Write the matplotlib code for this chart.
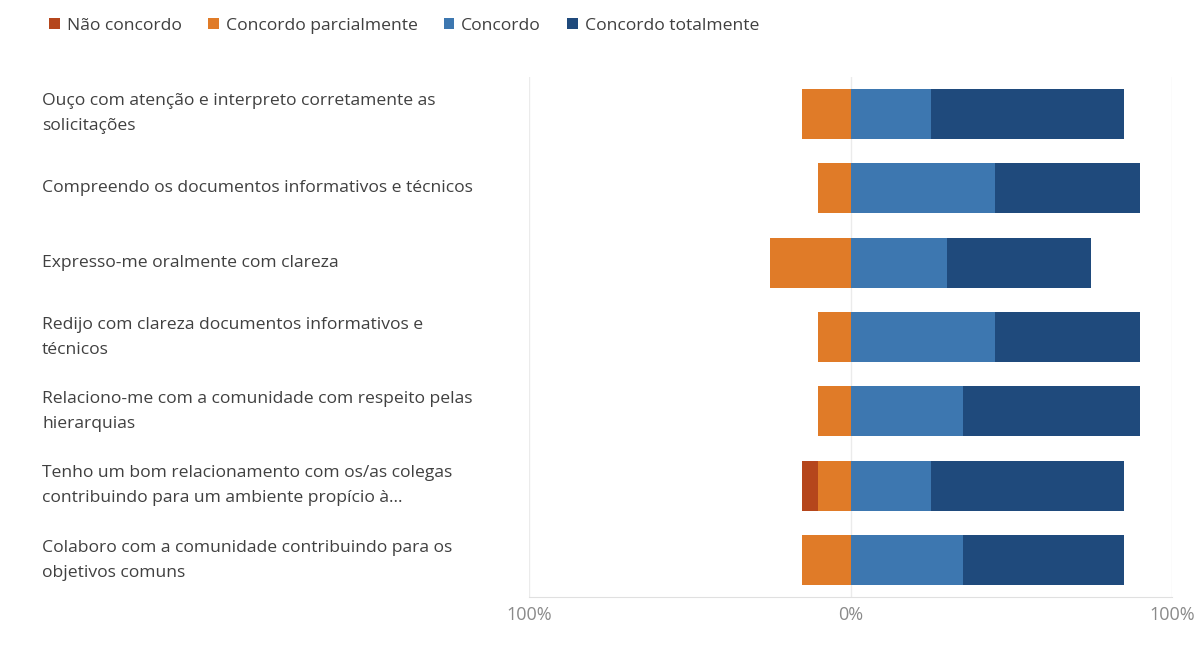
import matplotlib
matplotlib.use('Agg')
import matplotlib.pyplot as plt
import matplotlib.transforms as mtransforms
import numpy as np

plt.rcParams['font.family'] = ['Open Sans', 'DejaVu Sans']

# statements (top to bottom)
labels = [
  'Ouço com atenção e interpreto corretamente as\nsolicitações',
  'Compreendo os documentos informativos e técnicos',
  'Expresso-me oralmente com clareza',
  'Redijo com clareza documentos informativos e\ntécnicos',
  'Relaciono-me com a comunidade com respeito pelas\nhierarquias',
  'Tenho um bom relacionamento com os/as colegas\ncontribuindo para um ambiente propício à...',
  'Colaboro com a comunidade contribuindo para os\nobjetivos comuns',
]
series = ['Não concordo', 'Concordo parcialmente', 'Concordo', 'Concordo totalmente']

# percentages per answer
nao_concordo = [0, 0, 0, 0, 0, 5, 0]
parcialmente = [15, 10, 25, 10, 10, 10, 15]
concordo = [25, 45, 30, 45, 35, 25, 35]
totalmente = [60, 45, 45, 45, 55, 60, 50]

colors = ['#B5461C', '#E07B28', '#3D77B0', '#1F4A7C']

fig = plt.figure(figsize=(12.03, 6.45), dpi=100)
ax = fig.add_axes([0.44, 0.074, 0.534, 0.807])

y = np.arange(len(labels))
h = 0.67
parc = -np.array(parcialmente)

# negative side
ax.barh(y, parc, height=h, color=colors[1], label=series[1])
ax.barh(y, -np.array(nao_concordo), left=parc, height=h, color=colors[0], label=series[0])
# positive side
ax.barh(y, concordo, height=h, color=colors[2], label=series[2])
ax.barh(y, totalmente, left=concordo, height=h, color=colors[3], label=series[3])

ax.set_xlim(-100, 100)
ax.set_ylim(len(labels) - 0.5, -0.5)
ax.set_xticks([-100, 0, 100])
ax.set_xticklabels(['100%', '0%', '100%'], color='#8a8a8a', fontsize=13)
ax.set_yticks([])
for x in [-100, 0, 100]:
  ax.axvline(x, color='#ebebeb', linewidth=1, zorder=0)
for s in ['top', 'left', 'right']:
  ax.spines[s].set_visible(False)
ax.spines['bottom'].set_color('#e0e0e0')
ax.tick_params(axis='x', length=0, pad=6)

# wrapped labels on the left (x in figure coords, y in data coords)
trans = mtransforms.blended_transform_factory(fig.transFigure, ax.transData)
for yi, lab in zip(y, labels):
  ax.text(0.035, yi, lab, transform=trans, fontsize=12.6,
          color='#404040', va='center', ha='left', linespacing=1.75)

handles, labs = ax.get_legend_handles_labels()
order = [1, 0, 2, 3]
fig.legend([handles[i] for i in order], [labs[i] for i in order], loc='upper left',
           bbox_to_anchor=(0.028, 0.997), ncol=4, frameon=False, fontsize=12.6,
           handlelength=0.6, handleheight=0.6, handletextpad=0.4, columnspacing=1.5,
           labelcolor='#404040')

plt.savefig('out.png', dpi=100, facecolor='white')
